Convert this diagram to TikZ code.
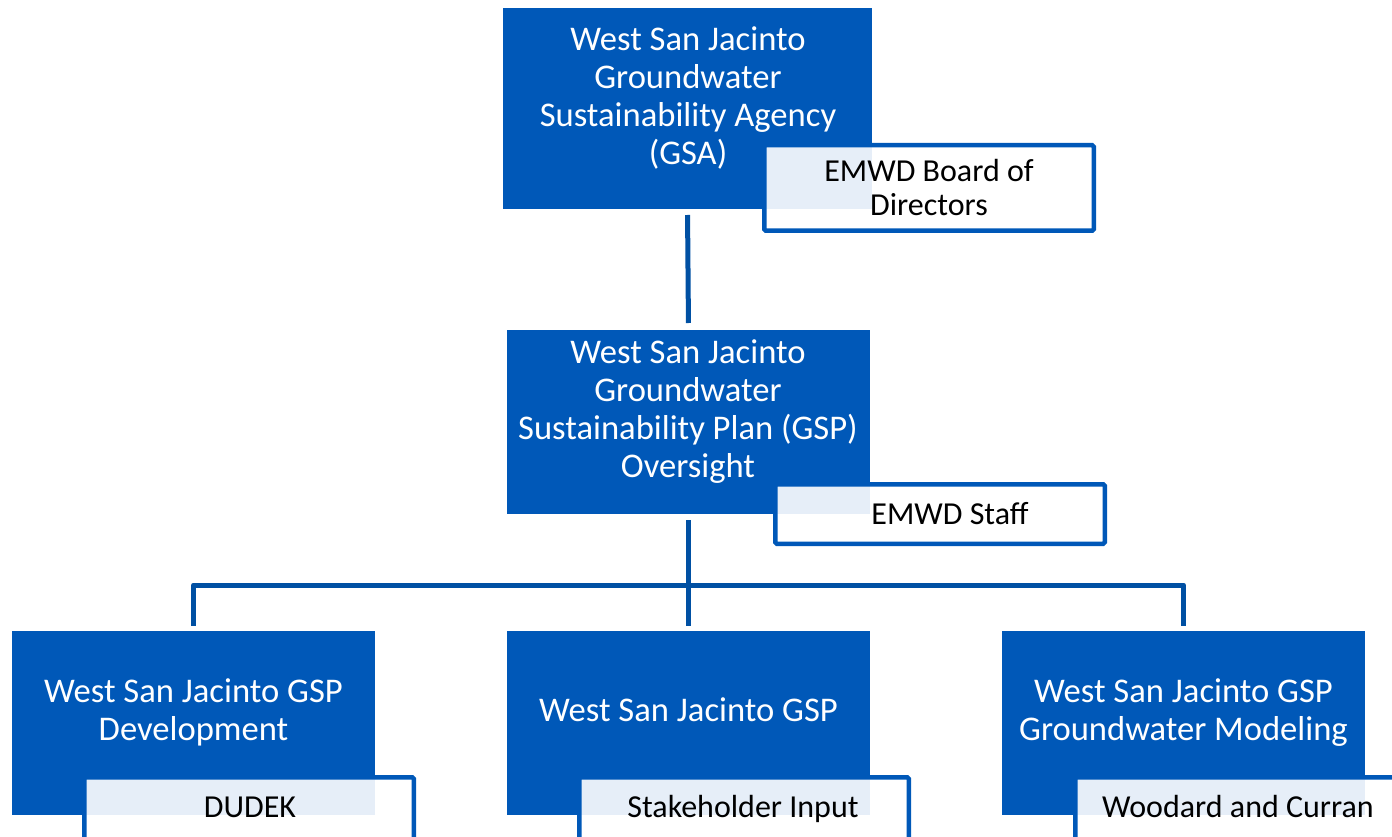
\documentclass[tikz,border=0pt]{standalone}
\usepackage{fontspec}
\setmainfont{Carlito}
\definecolor{boxblue}{HTML}{0058B8}
\definecolor{lineblue}{HTML}{0050A3}
\begin{document}
\begin{tikzpicture}[x=1pt,y=-1pt,
  bluebox/.style={fill=boxblue, draw=none, inner sep=0pt, outer sep=0pt, minimum width=363pt, minimum height=184pt},
  bluetext/.style={text=white, align=center, inner sep=0pt, font=\fontsize{34.6}{38}\selectfont},
  whitebox/.style={fill=white, fill opacity=0.9, draw=boxblue, draw opacity=1, line width=4.5pt, rounded corners=1.5pt, inner sep=0pt, outer sep=0pt, minimum width=329.5pt, minimum height=85.5pt},
  whitetext/.style={text=black, align=center, inner sep=0pt, font=\fontsize{32}{35}\selectfont},
  conn/.style={draw=lineblue, line width=5pt, line join=round}]
\useasboundingbox (0,0) rectangle (1392,837);
\clip (0,0) rectangle (1392,837);
% blue boxes
\node[bluebox, minimum width=369pt, minimum height=201pt] (gsa) at (687.5,108.5) {};
\node[bluebox] (gsp) at (688.5,422) {};
\node[bluebox] (dev) at (193.5,723) {};
\node[bluebox] (mid) at (688.5,723) {};
\node[bluebox] (mod) at (1183.5,723) {};
% connectors
\coordinate (bus) at (688,585);
\draw[conn, shorten <=6pt, shorten >=7pt] (gsa.south) -- (gsp.north);
\draw[conn, shorten <=6pt, shorten >=5pt] (gsp.south) -- (mid.north);
\draw[conn, shorten >=5pt] (bus) -| (dev.north);
\draw[conn, shorten >=5pt] (bus) -| (mod.north);
% blue texts
\node[bluetext] (gsaT) at (688,100) {\strut West San Jacinto\\Groundwater\\Sustainability Agency\\(GSA)\strut};
\node[bluetext] (gspT) at (688,413) {\strut West San Jacinto\\Groundwater\\Sustainability Plan (GSP)\\Oversight\strut};
\node[bluetext] (devT) at (193.5,714) {\strut West San Jacinto GSP\\Development\strut};
\node[bluetext] (midT) at (688.5,714) {\strut West San Jacinto GSP\strut};
\node[bluetext] (modT) at (1183.5,714) {\strut West San Jacinto GSP\\Groundwater Modeling\strut};
% white boxes
\node[whitebox] (board) at (929,188) {};
\node[whitebox, minimum height=59.5pt] (staff) at (940,514) {};
\node[whitebox] (dudek) at (249,820) {};
\node[whitebox] (stake) at (744,820) {};
\node[whitebox] (wood) at (1240,820) {};
% white texts
\node[whitetext] (boardT) at (929,191.5) {\strut EMWD Board of\\Directors\strut};
\node[whitetext] (staffT) at (950,517) {\strut EMWD Staff\strut};
\node[whitetext] (dudekT) at (250,810) {\strut DUDEK\strut};
\node[whitetext] (stakeT) at (743,810) {\strut Stakeholder Input\strut};
\node[whitetext] (woodT) at (1238,810) {\strut Woodard and Curran\strut};
\end{tikzpicture}
\end{document}
